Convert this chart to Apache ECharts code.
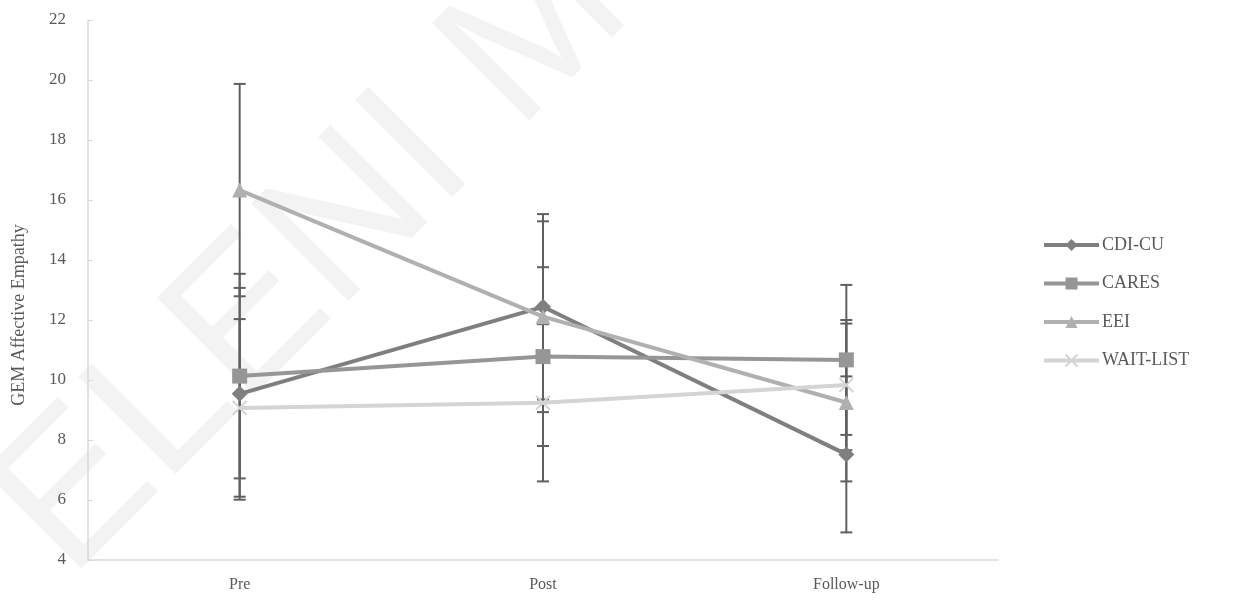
<!DOCTYPE html>
<html>
<head>
<meta charset="utf-8">
<script src="https://cdn.jsdelivr.net/npm/echarts@6/dist/echarts.min.js"></script>
<style>html,body{margin:0;padding:0;background:#fff}#main{width:1233px;height:600px}</style>
</head>
<body>
<div id="main"></div>
<script>
const categories = ['Pre', 'Post', 'Follow-up'];
const seriesNames = ['CDI-CU', 'CARES', 'EEI', 'WAIT-LIST'];
const cdiMean = [9.54, 12.44, 7.52];
const cdiErr = [3.53, 3.09, 2.6];
const caresMean = [10.13, 10.78, 10.67];
const caresErr = [3.41, 2.98, 2.5];
const eeiMean = [16.33, 12.11, 9.25];
const eeiErr = [3.54, 3.18, 2.63];
const waitMean = [9.07, 9.24, 9.83];
const waitErr = [2.96, 2.62, 2.17];
const yTicks = [4, 6, 8, 10, 12, 14, 16, 18, 20, 22];

const means = [cdiMean, caresMean, eeiMean, waitMean];
const errs = [cdiErr, caresErr, eeiErr, waitErr];
const colors = ['#7f7f7f', '#969696', '#b0b0b0', '#d4d4d4'];
const symbols = ['diamond', 'rect', 'triangle', 'path://M0 0L10 10M10 0L0 10'];
const symbolSizes = [16, 15, 15, 14];
const FONT = '"Liberation Serif", "Times New Roman", serif';

const chart = echarts.init(document.getElementById('main'), null, {renderer: 'canvas'});

const errSeries = means.map((m, s) => ({
  type: 'custom',
  name: seriesNames[s] + ' err',
  silent: true,
  z: 1,
  data: m.map((v, i) => [i, v - errs[s][i], v + errs[s][i]]),
  renderItem: function (params, api) {
    const lo = api.coord([api.value(0), api.value(1)]);
    const hi = api.coord([api.value(0), api.value(2)]);
    const hw = 6;
    const st = {stroke: '#5f5f5f', lineWidth: 2};
    return {
      type: 'group',
      children: [
        {type: 'line', shape: {x1: lo[0], y1: lo[1], x2: hi[0], y2: hi[1]}, style: st},
        {type: 'line', shape: {x1: lo[0] - hw, y1: lo[1], x2: lo[0] + hw, y2: lo[1]}, style: st},
        {type: 'line', shape: {x1: hi[0] - hw, y1: hi[1], x2: hi[0] + hw, y2: hi[1]}, style: st}
      ]
    };
  }
}));

const lineSeries = means.map((m, s) => ({
  type: 'line',
  name: seriesNames[s],
  data: m,
  z: 3 + s,
  symbol: symbols[s],
  symbolSize: symbolSizes[s],
  showAllSymbol: true,
  lineStyle: {color: colors[s], width: 4},
  itemStyle: s === 3
    ? {color: colors[s], borderColor: colors[s], borderWidth: 2}
    : {color: colors[s], borderWidth: 0},
  emphasis: {disabled: true},
  animation: false
}));

chart.setOption({
  animation: false,
  backgroundColor: '#ffffff',
  graphic: [{
    type: 'text',
    silent: true,
    z: -10,
    x: -40,
    y: 470,
    rotation: Math.PI / 4,
    style: {
      text: 'ELENI M',
      fontSize: 200,
      fontFamily: '"Liberation Sans", Arial, sans-serif',
      fill: '#f3f3f3'
    }
  }],
  grid: {left: 88, right: 235, top: 20, bottom: 40, containLabel: false},
  legend: {
    orient: 'vertical',
    left: 1037,
    top: 231,
    itemWidth: 55,
    itemHeight: 15,
    itemGap: 20.5,
    data: seriesNames,
    lineStyle: {width: 4},
    textStyle: {fontFamily: FONT, fontSize: 18, color: '#595959', padding: [0, 0, 0, -2]}
  },
  xAxis: {
    type: 'category',
    data: categories,
    boundaryGap: true,
    axisLine: {lineStyle: {color: '#d9d9d9', width: 1.5}},
    axisTick: {show: false},
    axisLabel: {fontFamily: FONT, fontSize: 16, color: '#595959', margin: 17},
    splitLine: {show: false}
  },
  yAxis: {
    type: 'value',
    min: yTicks[0],
    max: yTicks[yTicks.length - 1],
    interval: 2,
    name: 'GEM Affective Empathy',
    nameLocation: 'middle',
    nameGap: 60,
    nameTextStyle: {fontFamily: FONT, fontSize: 18, color: '#595959', padding: [0, 50, 0, 0]},
    axisLine: {show: true, lineStyle: {color: '#d9d9d9', width: 1.5}},
    axisTick: {show: true, inside: true, length: 5, lineStyle: {color: '#d9d9d9'}},
    axisLabel: {fontFamily: FONT, fontSize: 17, color: '#595959', margin: 22},
    splitLine: {show: false}
  },
  series: [...errSeries, ...lineSeries]
});
</script>
</body>
</html>
